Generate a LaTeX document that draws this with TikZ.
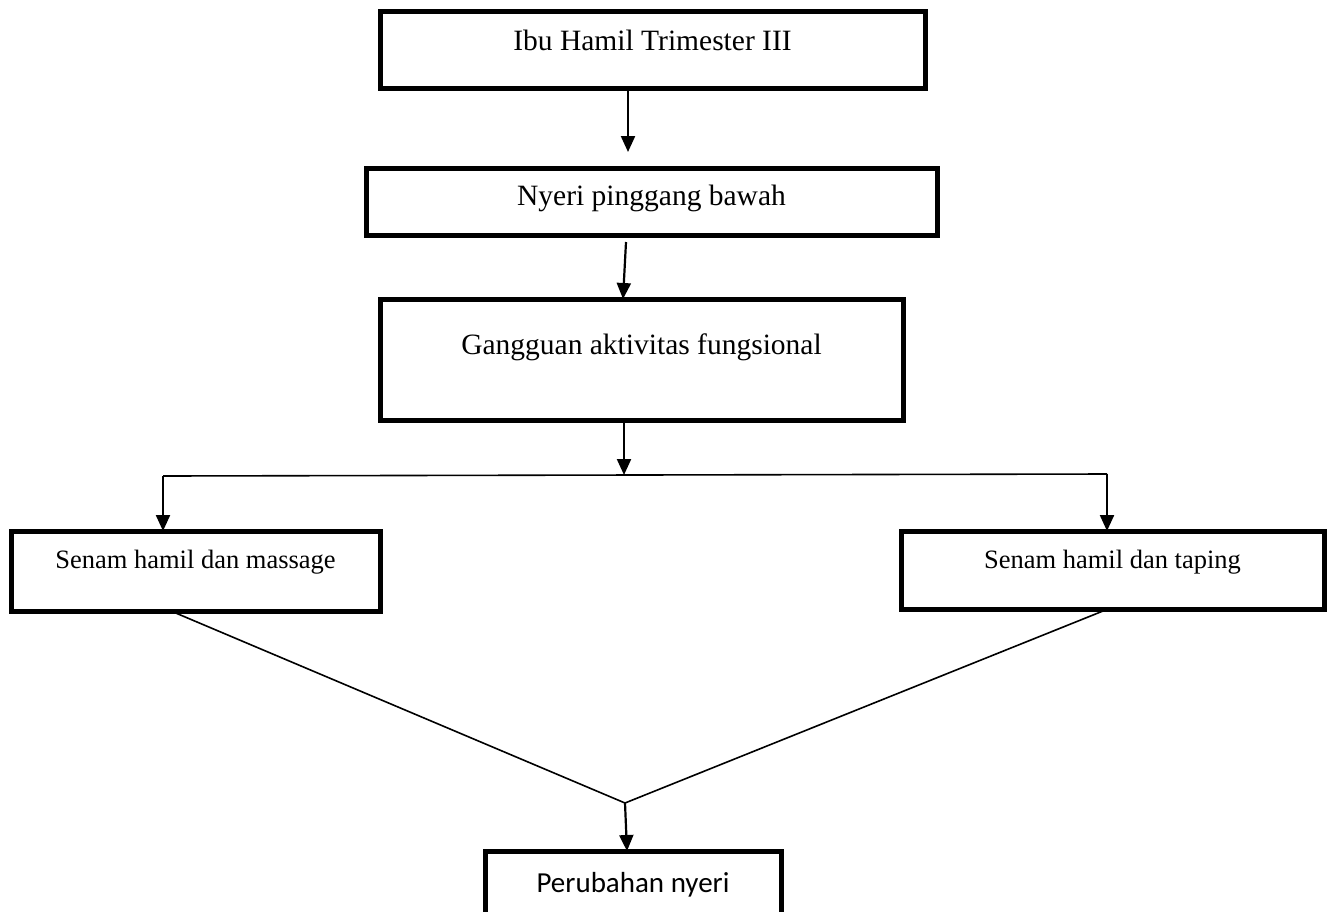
\documentclass[tikz,border=0pt]{standalone}
\usepackage{fontspec}
\setmainfont{Liberation Serif}
\newfontfamily\calibrifont{Carlito}
\usetikzlibrary{arrows.meta}
\tikzset{
  box/.style={draw, line width=5pt, inner sep=0pt, outer sep=0pt, anchor=north west, align=center},
  bigtext/.style={font=\fontsize{29.5}{34}\selectfont},
  smalltext/.style={font=\fontsize{26.5}{31}\selectfont},
  arr/.style={line width=2.2pt, -{Triangle[length=16pt,width=14pt]}},
  link/.style={line width=1.6pt}
}
\begin{document}
\begin{tikzpicture}[x=1pt,y=-1pt]
\useasboundingbox (0,0) rectangle (1327,911);
% boxes
\node[box, bigtext, minimum width=545pt, minimum height=77pt, text height=39pt, text depth=38pt] (top) at (380,11) {Ibu Hamil Trimester III};
\node[box, bigtext, minimum width=571pt, minimum height=67pt, text height=37pt, text depth=30pt] (pain) at (366,168) {Nyeri pinggang bawah};
\node[box, bigtext, minimum width=523pt, minimum height=121pt, text height=55pt, text depth=66pt] (gang) at (380,299) {Gangguan aktivitas fungsional};
\node[box, smalltext, minimum width=369pt, minimum height=80pt, text height=37pt, text depth=43pt] (left) at (11,531) {Senam hamil dan massage};
\node[box, smalltext, minimum width=423pt, minimum height=78pt, text height=37pt, text depth=41pt] (right) at (901,531) {Senam hamil dan taping};
\node[box, font=\calibrifont\fontsize{29}{34}\selectfont, minimum width=296pt, minimum height=90pt, text height=41pt, text depth=49pt] (bot) at (485,851) {Perubahan nyeri};
% connectors
\coordinate (a1e) at (628,152);
\draw[arr] (top.south -| a1e) -- (a1e);
\coordinate (a2s) at (626,242);
\coordinate (a2e) at (623,299);
\draw[arr] (a2s) -- (a2e |- gang.north);
\coordinate (jn) at (624,475);
\draw[arr] (gang.south -| jn) -- (jn);
\coordinate (hl) at (163,476);
\coordinate (hr) at (1107,474);
\draw[link] (hl) -- (hr);
\draw[arr] (hl) -- (hl |- left.north);
\draw[arr] (hr) -- (hr |- right.north);
\coordinate (ls) at (171,611);
\coordinate (rs) at (1108,609);
\coordinate (mj) at (625,803);
\draw[link] (ls) -- (mj) -- (rs);
\coordinate (me) at (627,851);
\draw[arr] (mj) -- (me |- bot.north);
\end{tikzpicture}
\end{document}
